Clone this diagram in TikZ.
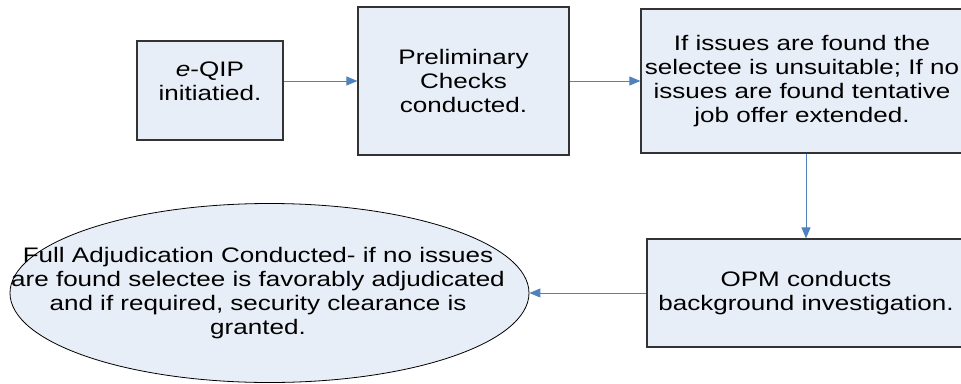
\documentclass[tikz,border=0pt]{standalone}
\usepackage{fontspec}
\setmainfont[FakeStretch=1.24]{Liberation Sans}
\usetikzlibrary{arrows.meta,shapes.geometric}
\definecolor{boxfill}{HTML}{E8EEF7}
\definecolor{flowblue}{HTML}{4F81BD}
\begin{document}
\begin{tikzpicture}[x=1pt, y=-1pt,
			step box/.style={draw=black!80, line width=1.2pt, fill=boxfill, inner sep=0pt},
			steptext/.style={align=center, inner sep=0pt, font=\fontsize{21}{24}\selectfont},
			flow/.style={draw=flowblue, line width=0.9pt, -{Triangle[length=11pt, width=9pt]}}]
			
			\useasboundingbox (0,0) rectangle (961,383);
			
			\node[step box, minimum width=146pt, minimum height=99pt] (eqip) at (210,90.5) {};
			\node[steptext] (eqiptext) at (210,81) {\textit{e}-QIP\\initiatied.};
			
			\node[step box, minimum width=211pt, minimum height=148pt, steptext] (prelim) at (463.5,81) {Preliminary\\Checks\\conducted.};
			
			\node[step box, minimum width=322pt, minimum height=144pt, steptext] (offer) at (802,81) {If issues are found the\\selectee is unsuitable; If no\\issues are found tentative\\job offer extended.};
			
			\node[step box, minimum width=318pt, minimum height=108pt, steptext] (bgi) at (806,293) {OPM conducts\\background investigation.};
			
			\node[draw=black, line width=0.8pt, fill=boxfill, ellipse, inner sep=0pt, minimum width=519pt, minimum height=179pt] (adjud) at (269.5,293) {};
			\node[steptext] (adjudtext) at (258,293) {Full Adjudication Conducted- if no issues\\are found selectee is favorably adjudicated\\and if required, security clearance is\\granted.};
			
			\draw[flow] (eqip.east |- eqiptext) -- (prelim.west);
			\draw[flow] (prelim.east) -- (offer.west);
			\draw[flow] (offer.south -| bgi.north) -- (bgi.north);
			\draw[flow] (bgi.west) -- (adjud.east);
			
\end{tikzpicture}
\end{document}
